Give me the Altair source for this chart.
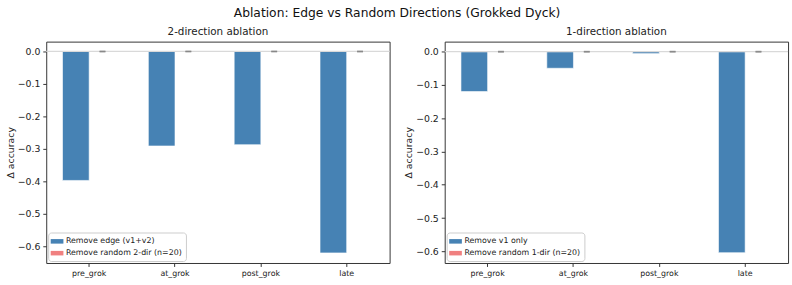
import altair as alt
import pandas as pd

stages = ["pre_grok", "at_grok", "post_grok", "late"]

# 2-direction ablation
labels_two = ["Remove edge (v1+v2)", "Remove random 2-dir (n=20)"]
edge_two = [-0.397, -0.291, -0.287, -0.620]
rand_two = [-0.0004, -0.0003, -0.0003, -0.0004]
rand_two_err = [0.0008, 0.0007, 0.0007, 0.0008]

# 1-direction ablation
labels_one = ["Remove v1 only", "Remove random 1-dir (n=20)"]
edge_one = [-0.120, -0.050, -0.006, -0.604]
rand_one = [-0.0003, -0.0003, -0.0002, -0.0003]
rand_one_err = [0.0007, 0.0006, 0.0006, 0.0007]

BLUE = "#4682b4"
CORAL = "#f08080"
FONT = "DejaVu Sans"
Y_TICKS = [0.0, -0.1, -0.2, -0.3, -0.4, -0.5, -0.6]


def panel(title, labels, edge, rand, rand_err, ymin):
    rows = []
    for i, s in enumerate(stages):
        rows.append({"stage": s, "series": labels[0], "value": edge[i],
                     "lo": edge[i], "hi": edge[i]})
        rows.append({"stage": s, "series": labels[1], "value": rand[i],
                     "lo": rand[i] - rand_err[i], "hi": rand[i] + rand_err[i]})
    df = pd.DataFrame(rows)
    base = alt.Chart(df)

    x = alt.X("stage:N", sort=stages,
              scale=alt.Scale(paddingInner=0, paddingOuter=0),
              axis=alt.Axis(title=None, labelAngle=0, labelFontSize=8,
                            labelColor="#222", tickColor="#333",
                            tickSize=3.5, labelPadding=3, domain=False))
    xo = alt.XOffset("series:N", sort=labels,
                     scale=alt.Scale(domain=labels, paddingInner=0,
                                     paddingOuter=0.61))
    yscale = alt.Scale(domain=[ymin, 0.03], nice=False, zero=False)
    yaxis = alt.Axis(title="Δ accuracy", values=Y_TICKS, format=".1f",
                     labelFontSize=9.5, labelColor="#222",
                     tickColor="#333", tickSize=3.5, labelPadding=3,
                     titleFontSize=9.5, titleFontWeight="normal",
                     titleColor="#222", titlePadding=2, grid=False,
                     domain=False)
    y = alt.Y("value:Q", scale=yscale, axis=yaxis)

    bars = base.mark_bar(stroke="white", strokeWidth=0.6).encode(
        x=x, xOffset=xo, y=y,
        color=alt.Color(
            "series:N", sort=labels,
            scale=alt.Scale(domain=labels, range=[BLUE, CORAL]),
            legend=alt.Legend(
                title=None, orient="bottom-left", offset=2,
                labelFontSize=8, labelColor="#222",
                symbolType="M-1.4,-0.5H1.4V0.5H-1.4Z", symbolSize=85,
                symbolStrokeWidth=0, rowPadding=3, padding=4,
                fillColor="white", strokeColor="#cccccc", cornerRadius=3,
            ),
        ),
    )

    # horizontal reference line at zero
    zero = alt.Chart(pd.DataFrame({"value": [0.0]})).mark_rule(
        color="#d9d9d9", strokeWidth=1.5
    ).encode(y=y)

    rand_only = base.transform_filter(alt.datum.series == labels[1])
    caps_lo = rand_only.mark_tick(color="#808080", size=6, thickness=1.5).encode(
        x=x, xOffset=xo, y=alt.Y("lo:Q", scale=yscale, axis=yaxis))
    caps_hi = rand_only.mark_tick(color="#808080", size=6, thickness=1.5).encode(
        x=x, xOffset=xo, y=alt.Y("hi:Q", scale=yscale, axis=yaxis))

    return alt.layer(bars, zero, caps_lo, caps_hi).properties(
        width=349, height=225,
        title=alt.TitleParams(title, fontSize=10.5, fontWeight="normal",
                              color="#222", offset=4),
    )


left = panel("2-direction ablation", labels_two, edge_two, rand_two,
             rand_two_err, -0.651)
right = panel("1-direction ablation", labels_one, edge_one, rand_one,
              rand_one_err, -0.635)

chart = alt.hconcat(left, right, spacing=11).resolve_scale(
    color="independent", xOffset="independent", y="independent"
).properties(
    title=alt.TitleParams("Ablation: Edge vs Random Directions (Grokked Dyck)",
                          anchor="middle", fontSize=12.5, fontWeight="normal",
                          color="#111", offset=8),
    padding={"left": 4, "top": 4, "right": 2, "bottom": 2},
).configure(font=FONT).configure_view(stroke="#333333", strokeWidth=1)

chart.save("out.html", embed_options={"renderer": "svg", "actions": False})
